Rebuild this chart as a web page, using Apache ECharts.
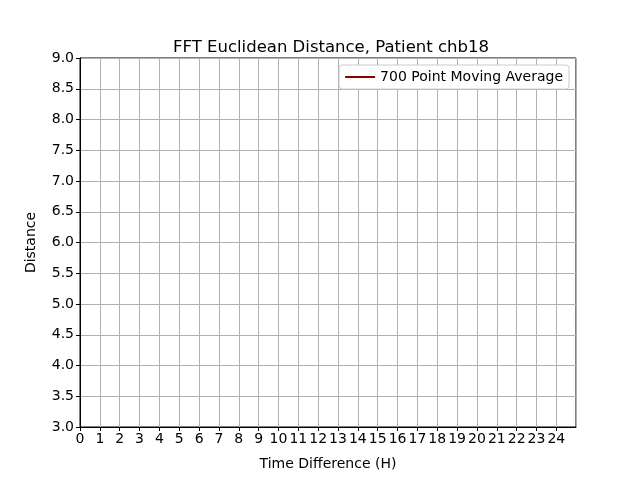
<!DOCTYPE html>
<html>
<head>
<meta charset="utf-8">
<script src="https://cdn.jsdelivr.net/npm/echarts@6/dist/echarts.min.js"></script>
<style>html,body{margin:0;padding:0;background:#fff}</style>
</head>
<body>
<div id="chart" style="width:640px;height:480px"></div>
<script>
// moving average values fall outside the visible range, so nothing is drawn
const hours = [];
const movingAvg = [];
const seriesName = '700 Point Moving Average';

const chart = echarts.init(document.getElementById('chart'));
const font = 'DejaVu Sans';

chart.setOption({
    animation: false,
    title: {
        text: 'FFT Euclidean Distance, Patient chb18',
        left: 326, top: 34, textAlign: 'center',
        textStyle: { fontFamily: font, fontSize: 16.5, fontWeight: 'normal', color: '#000' }
    },
    legend: {
        right: 71, top: 65,
        data: [seriesName],
        backgroundColor: '#fff', borderColor: '#ccc', borderWidth: 1, borderRadius: 3,
        padding: [5, 6],
        itemWidth: 30, itemHeight: 2, itemGap: 8,
        icon: 'rect',
        textStyle: { fontFamily: font, fontSize: 14, color: '#000' }
    },
    grid: { left: 80, right: 64, top: 58, bottom: 53, show: true, borderColor: '#000', borderWidth: 1 },
    xAxis: {
        type: 'value', min: 0, max: 24.99, interval: 1,
        name: 'Time Difference (H)', nameLocation: 'middle', nameGap: 30,
        nameTextStyle: { fontFamily: font, fontSize: 14, color: '#000' },
        axisLine: { lineStyle: { color: '#000' } },
        axisTick: { show: true, length: 4, lineStyle: { color: '#000' } },
        axisLabel: { fontFamily: font, fontSize: 14, color: '#000', margin: 5, showMaxLabel: false },
        splitLine: { show: true, lineStyle: { color: '#b0b0b0' } }
    },
    yAxis: {
        type: 'value', min: 3, max: 9, interval: 0.5,
        name: 'Distance', nameLocation: 'middle', nameGap: 42,
        nameTextStyle: { fontFamily: font, fontSize: 14, color: '#000' },
        axisLine: { show: true, lineStyle: { color: '#000' } },
        axisTick: { show: true, length: 4, lineStyle: { color: '#000' } },
        axisLabel: { fontFamily: font, fontSize: 14, color: '#000', margin: 6,
            formatter: v => v.toFixed(1) },
        splitLine: { show: true, lineStyle: { color: '#b0b0b0' } }
    },
    series: [{
        name: seriesName,
        type: 'line',
        showSymbol: false,
        color: '#8b0000',
        lineStyle: { width: 1.5 },
        data: hours.map((h, i) => [h, movingAvg[i]])
    }]
});
</script>
</body>
</html>
